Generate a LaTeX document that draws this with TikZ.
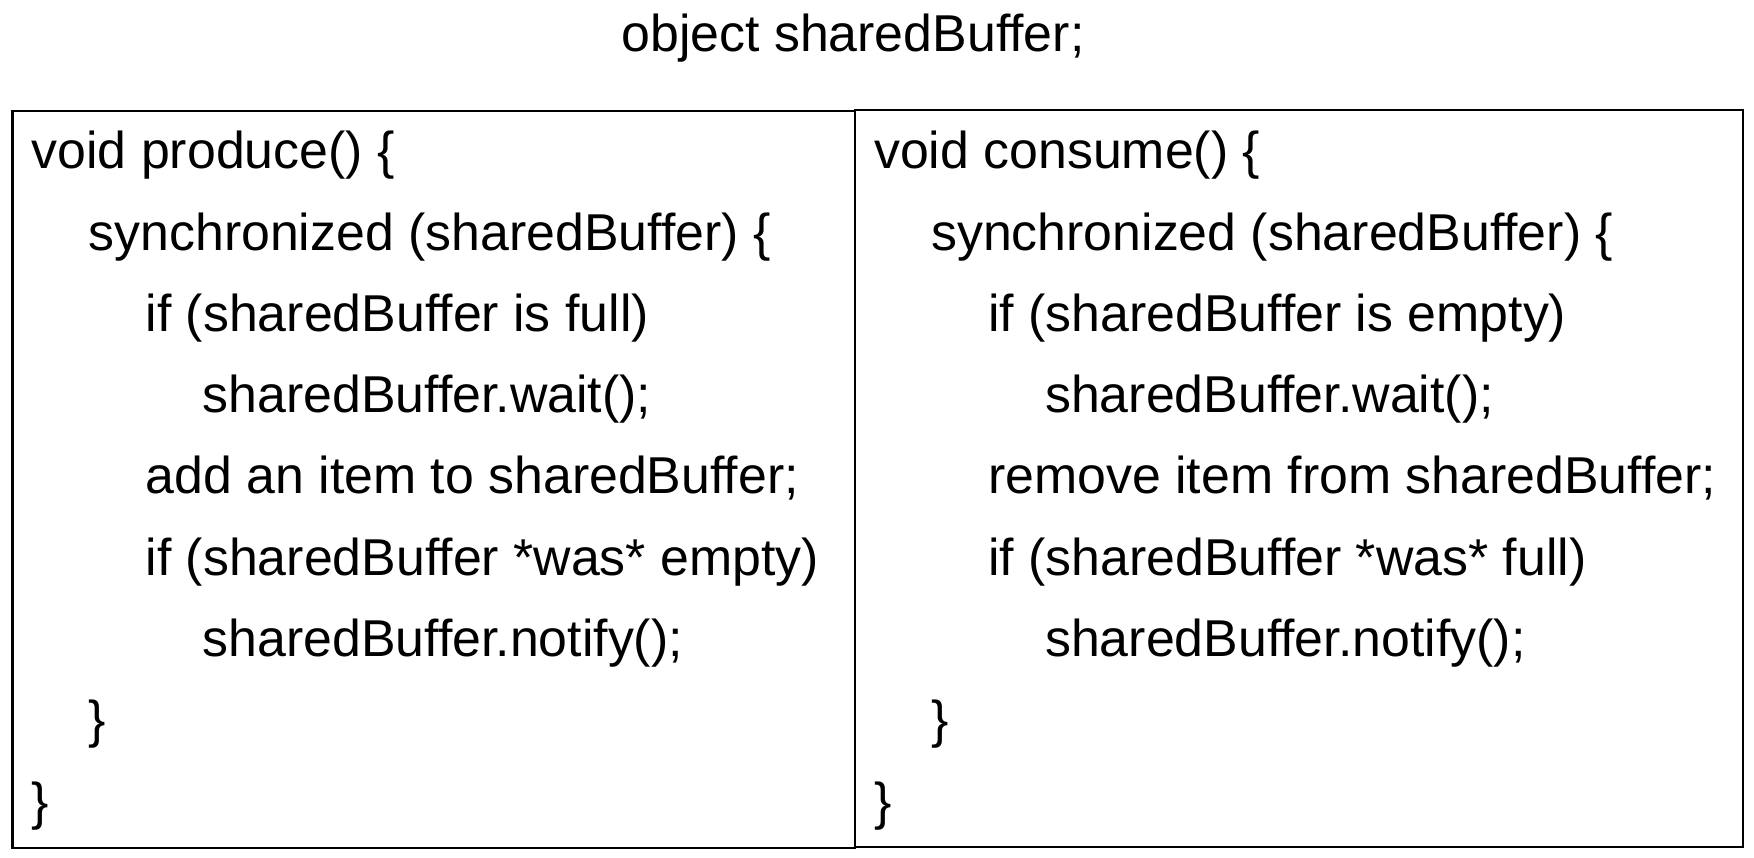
\documentclass[tikz,border=0pt]{standalone}
\usepackage{fontspec}
\setmainfont{Liberation Sans}
\begin{document}
\begin{tikzpicture}[x=0.01cm,y=-0.01cm,
  codeline/.style={anchor=base west,inner sep=0pt,font=\fontsize{14.74}{17}\selectfont},
  panel/.style={draw=black,line width=0.2mm}]
\useasboundingbox (0,0) rectangle (1754,858);

% shared object
\node[codeline,anchor=base] (title) at (853,52) {object sharedBuffer;};

% Left-hand box: producer
\draw[panel] (12.5,111.5) rectangle (854.5,848);
\node[codeline] (p1) at (31,169) {void produce() \{};
\node[codeline] (p2) at (88,250.25) {synchronized (sharedBuffer) \{};
\node[codeline] (p3) at (145,331.5) {if (sharedBuffer is full)};
\node[codeline] (p4) at (202,412.75) {sharedBuffer.wait();};
\node[codeline] (p5) at (145,494) {add an item to sharedBuffer;};
\node[codeline] (p6) at (145,575.25) {if (sharedBuffer *was* empty)};
\node[codeline] (p7) at (202,656.5) {sharedBuffer.notify();};
\node[codeline] (p8) at (88,737.75) {\}};
\node[codeline] (p9) at (31,819) {\}};

% Right-hand box: consumer
\draw[panel] (854.5,110.5) rectangle (1743,847);
\node[codeline] (c1) at (873.5,169) {void consume() \{};
\node[codeline] (c2) at (930.5,250.25) {synchronized (sharedBuffer) \{};
\node[codeline] (c3) at (987.5,331.5) {if (sharedBuffer is empty)};
\node[codeline] (c4) at (1044.5,412.75) {sharedBuffer.wait();};
\node[codeline] (c5) at (987.5,494) {remove item from sharedBuffer;};
\node[codeline] (c6) at (987.5,575.25) {if (sharedBuffer *was* full)};
\node[codeline] (c7) at (1044.5,656.5) {sharedBuffer.notify();};
\node[codeline] (c8) at (930.5,737.75) {\}};
\node[codeline] (c9) at (873.5,819) {\}};
\end{tikzpicture}
\end{document}
